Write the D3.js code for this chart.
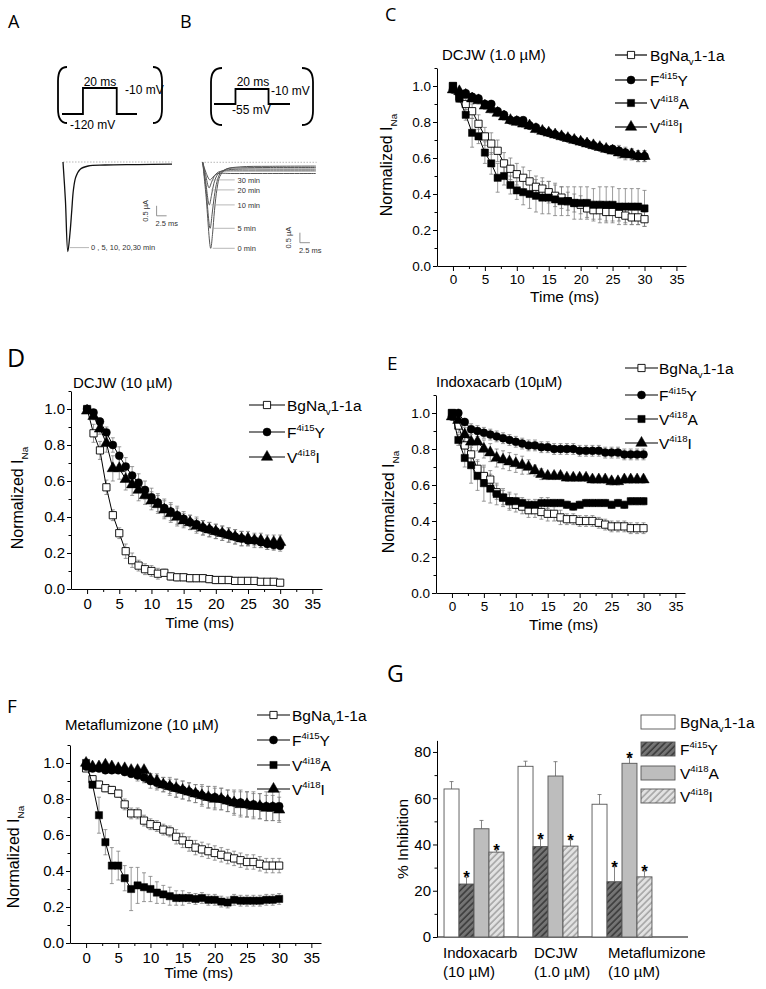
<!DOCTYPE html>
<html>
<head>
<meta charset="utf-8">
<script src="https://cdn.jsdelivr.net/npm/d3@7"></script>
<style>
  body { margin: 0; background: #fff; }
  svg { display: block; font-family: "Liberation Sans", Arial, sans-serif; }
</style>
</head>
<body>
<svg id="fig" width="766" height="989"></svg>
<script>
// ---------- data ----------
const times = [0,1,2,3,4,5,6,7,8,9,10,11,12,13,14,15,16,17,18,19,20,21,22,23,24,25,26,27,28,29,30];

// C: DCJW (1.0 uM)
const cBg  = [1.0,0.94,0.90,0.86,0.79,0.72,0.68,0.64,0.57,0.54,0.51,0.49,0.47,0.44,0.43,0.41,0.39,0.38,0.36,0.35,0.34,0.32,0.31,0.31,0.30,0.30,0.29,0.28,0.27,0.27,0.26];
const cBgE = [0,0.02,0.03,0.04,0.05,0.05,0.06,0.06,0.06,0.06,0.06,0.06,0.06,0.06,0.06,0.06,0.06,0.06,0.05,0.05,0.05,0.05,0.05,0.05,0.05,0.05,0.04,0.04,0.04,0.04,0.04];
const cF   = [0.98,0.96,0.96,0.94,0.93,0.90,0.90,0.86,0.84,0.81,0.81,0.81,0.78,0.77,0.75,0.74,0.73,0.72,0.71,0.70,0.69,0.68,0.67,0.66,0.65,0.65,0.64,0.63,0.62,0.61,0.61];
const cFE  = [0,0.01,0.01,0.01,0.02,0.02,0.02,0.02,0.02,0.02,0.02,0.02,0.02,0.02,0.02,0.02,0.02,0.02,0.02,0.02,0.02,0.02,0.02,0.02,0.02,0.02,0.03,0.03,0.03,0.03,0.03];
const cA   = [1.0,0.93,0.84,0.74,0.72,0.63,0.57,0.49,0.50,0.45,0.42,0.41,0.40,0.39,0.38,0.38,0.37,0.36,0.36,0.35,0.35,0.35,0.34,0.34,0.34,0.34,0.33,0.33,0.33,0.33,0.32];
const cAE  = [0,0.02,0.03,0.08,0.04,0.06,0.06,0.08,0.05,0.05,0.05,0.07,0.08,0.09,0.09,0.09,0.09,0.08,0.08,0.09,0.09,0.09,0.09,0.1,0.1,0.1,0.1,0.1,0.1,0.1,0.1];
const cI   = [0.98,0.97,0.95,0.93,0.92,0.89,0.87,0.85,0.83,0.81,0.80,0.79,0.78,0.76,0.75,0.74,0.73,0.72,0.71,0.70,0.69,0.68,0.67,0.66,0.65,0.64,0.63,0.62,0.62,0.61,0.61];
const cIE  = [0,0.01,0.01,0.02,0.02,0.02,0.02,0.02,0.02,0.02,0.02,0.02,0.02,0.02,0.02,0.02,0.02,0.02,0.02,0.02,0.02,0.02,0.02,0.02,0.02,0.02,0.03,0.03,0.03,0.03,0.03];

// D: DCJW (10 uM)
const dBg  = [1.0,0.865,0.77,0.565,0.41,0.31,0.21,0.16,0.13,0.11,0.10,0.085,0.09,0.07,0.065,0.065,0.06,0.06,0.06,0.055,0.05,0.05,0.05,0.045,0.045,0.045,0.045,0.04,0.04,0.04,0.035];
const dBgE = [0,0.05,0.05,0.04,0.03,0.03,0.04,0.04,0.03,0.03,0.03,0.03,0.02,0.02,0.02,0.02,0.02,0.02,0.02,0.02,0.02,0.02,0.02,0.02,0.02,0.02,0.01,0.01,0.01,0.01,0.01];
const dF   = [1.0,0.98,0.93,0.87,0.80,0.74,0.68,0.63,0.59,0.55,0.51,0.48,0.45,0.43,0.41,0.39,0.37,0.36,0.34,0.33,0.32,0.31,0.30,0.29,0.28,0.27,0.27,0.26,0.25,0.245,0.24];
const dFE  = [0,0.01,0.02,0.03,0.04,0.05,0.05,0.05,0.05,0.05,0.05,0.05,0.05,0.05,0.05,0.04,0.04,0.04,0.04,0.04,0.04,0.04,0.04,0.04,0.04,0.03,0.03,0.03,0.03,0.03,0.03];
const dI   = [0.99,0.96,0.89,0.81,0.67,0.67,0.61,0.58,0.55,0.52,0.49,0.47,0.44,0.42,0.40,0.38,0.37,0.35,0.34,0.33,0.32,0.31,0.30,0.29,0.28,0.28,0.27,0.27,0.26,0.26,0.26];
const dIE  = [0,0.02,0.03,0.05,0.07,0.06,0.06,0.06,0.06,0.05,0.05,0.05,0.05,0.05,0.05,0.04,0.04,0.04,0.04,0.04,0.04,0.04,0.04,0.04,0.04,0.04,0.04,0.04,0.04,0.04,0.04];

// E: Indoxacarb (10 uM)
const eBg  = [1.0,0.93,0.82,0.77,0.69,0.65,0.63,0.56,0.53,0.51,0.49,0.48,0.46,0.46,0.45,0.44,0.44,0.42,0.41,0.41,0.40,0.40,0.40,0.39,0.38,0.37,0.37,0.37,0.36,0.36,0.36];
const eBgE = [0,0.04,0.05,0.05,0.05,0.05,0.05,0.04,0.04,0.04,0.04,0.04,0.04,0.04,0.04,0.04,0.04,0.04,0.03,0.03,0.03,0.03,0.03,0.03,0.03,0.03,0.03,0.03,0.03,0.03,0.03];
const eF   = [0.98,1.0,0.95,0.91,0.90,0.89,0.88,0.87,0.86,0.85,0.84,0.83,0.82,0.82,0.81,0.81,0.80,0.80,0.80,0.80,0.79,0.79,0.79,0.79,0.78,0.78,0.78,0.77,0.77,0.77,0.77];
const eFE  = [0,0.02,0.02,0.03,0.03,0.03,0.03,0.03,0.03,0.03,0.03,0.03,0.03,0.03,0.03,0.03,0.03,0.03,0.03,0.03,0.03,0.03,0.03,0.03,0.03,0.03,0.03,0.03,0.03,0.03,0.03];
const eA   = [1.0,0.85,0.75,0.71,0.65,0.61,0.58,0.55,0.53,0.51,0.51,0.50,0.49,0.49,0.50,0.50,0.50,0.50,0.49,0.48,0.49,0.50,0.50,0.50,0.50,0.49,0.50,0.49,0.51,0.51,0.51];
const eAE  = [0,0.03,0.05,0.1,0.08,0.1,0.08,0.06,0.05,0.05,0.04,0.03,0.03,0.03,0.03,0.03,0.02,0.02,0.02,0.02,0.02,0.02,0.02,0.02,0.02,0.02,0.02,0.02,0.02,0.02,0.02];
const eI   = [0.98,0.96,0.88,0.84,0.84,0.80,0.78,0.75,0.74,0.73,0.72,0.71,0.70,0.68,0.66,0.65,0.65,0.65,0.64,0.64,0.64,0.64,0.63,0.63,0.63,0.62,0.62,0.63,0.63,0.63,0.63];
const eIE  = [0,0.03,0.04,0.06,0.05,0.05,0.05,0.05,0.05,0.05,0.05,0.05,0.04,0.03,0.03,0.02,0.02,0.02,0.02,0.02,0.02,0.02,0.02,0.02,0.02,0.02,0.02,0.02,0.02,0.02,0.02];

// F: Metaflumizone (10 uM)
const fBg  = [0.97,0.91,0.88,0.86,0.85,0.83,0.77,0.72,0.72,0.68,0.66,0.65,0.63,0.62,0.59,0.57,0.55,0.53,0.52,0.51,0.50,0.49,0.48,0.47,0.46,0.45,0.45,0.44,0.43,0.43,0.43];
const fBgE = [0,0.02,0.02,0.02,0.02,0.02,0.03,0.03,0.03,0.03,0.03,0.03,0.03,0.03,0.04,0.04,0.04,0.04,0.04,0.04,0.04,0.04,0.04,0.04,0.04,0.04,0.04,0.04,0.04,0.04,0.04];
const fF   = [0.98,0.97,0.97,0.96,0.96,0.96,0.95,0.94,0.93,0.92,0.90,0.89,0.88,0.87,0.86,0.85,0.84,0.83,0.82,0.81,0.81,0.80,0.79,0.78,0.78,0.77,0.77,0.76,0.76,0.76,0.76];
const fFE  = [0,0.01,0.01,0.01,0.01,0.01,0.02,0.02,0.03,0.03,0.04,0.04,0.04,0.05,0.05,0.05,0.05,0.05,0.06,0.06,0.06,0.06,0.06,0.07,0.07,0.07,0.07,0.07,0.08,0.08,0.08];
const fA   = [1.0,0.88,0.71,0.56,0.43,0.43,0.36,0.30,0.32,0.31,0.30,0.28,0.27,0.26,0.25,0.25,0.25,0.245,0.25,0.24,0.24,0.23,0.225,0.24,0.235,0.235,0.235,0.235,0.24,0.24,0.245];
const fAE  = [0,0.02,0.1,0.07,0.1,0.08,0.07,0.12,0.1,0.08,0.07,0.06,0.05,0.05,0.04,0.04,0.03,0.03,0.03,0.03,0.03,0.03,0.03,0.03,0.03,0.03,0.03,0.03,0.03,0.03,0.03];
const fI   = [1.0,0.98,0.98,0.99,0.98,0.97,0.97,0.96,0.96,0.96,0.91,0.90,0.88,0.87,0.86,0.85,0.84,0.83,0.82,0.81,0.80,0.80,0.79,0.78,0.77,0.77,0.76,0.76,0.75,0.75,0.74];
const fIE  = [0,0.01,0.01,0.01,0.01,0.01,0.01,0.01,0.01,0.01,0.03,0.04,0.04,0.04,0.05,0.05,0.05,0.05,0.05,0.06,0.06,0.06,0.06,0.06,0.07,0.07,0.07,0.07,0.07,0.07,0.07];

// G: % inhibition
const groups    = ["Indoxacarb", "DCJW", "Metaflumizone"];
const groupDose = ["(10 \u00b5M)", "(1.0 \u00b5M)", "(10 \u00b5M)"];
const inhibBg = [64.0, 73.8, 57.4], inhibBgE = [3.2, 2.2, 4.2], sigBg = [0, 0, 0];
const inhibF  = [22.9, 39.1, 23.9], inhibFE  = [2.9, 3.3, 6.5], sigF  = [1, 1, 1];
const inhibA  = [46.8, 69.6, 75.1], inhibAE  = [3.6, 6.2, 2.5], sigA  = [0, 0, 1];
const inhibI  = [36.7, 39.3, 26.0], inhibIE  = [0.9, 2.7, 2.5], sigI  = [1, 1, 1];

// A/B: voltage protocols (ms, mV)
const protoA_t = [-12.4, 0, 0, 20, 20, 32], protoA_v = [-120, -120, -10, -10, -120, -120];
const protoB_t = [-13, 0, 0, 20, 20, 33],   protoB_v = [-55, -55, -10, -10, -55, -55];

// A: current trace (ms, uA) - identical at 0,5,10,20,30 min
const trA_t = [0,0.6,1.2,1.75,2.2,2.6,3.2,4.25,6.3,10.5,18.75,27.25];
const trA_i = [0,-1.9,-4.48,-3.55,-2.4,-1.4,-0.75,-0.37,-0.2,-0.15,-0.13,-0.11];
// B: current traces at 0,5,10,20,30 min
const trB_labels = ["0 min", "5 min", "10 min", "20 min", "30 min"];
const trB_t = [
  [0,0.8,2.0,2.45,2.95,3.6,4.3,5.8,9.3,16.8,28.3],
  [0,0.8,1.85,2.35,2.9,3.6,4.4,6,9.5,17,28.3],
  [0,0.7,1.65,2.2,2.8,3.6,4.6,6.5,10,17,28.3],
  [0,0.7,1.6,2.2,2.9,3.8,5,7,10,17,28.3],
  [0,0.8,1.8,2.5,3.3,4.5,7,12,28.3]
];
const trB_i = [
  [0,-1.6,-4.3,-3.6,-2.4,-1.3,-0.7,-0.35,-0.23,-0.2,-0.19],
  [0,-1.3,-3.3,-2.6,-1.7,-0.95,-0.55,-0.33,-0.28,-0.26,-0.26],
  [0,-0.9,-2.13,-1.65,-1.05,-0.65,-0.45,-0.37,-0.34,-0.34,-0.34],
  [0,-0.6,-1.28,-1.0,-0.7,-0.5,-0.44,-0.43,-0.43,-0.43,-0.43],
  [0,-0.5,-0.88,-0.75,-0.6,-0.55,-0.56,-0.56,-0.56]
];

const xTicks = [0,5,10,15,20,25,30,35];
const xMinor = [2.5,7.5,12.5,17.5,22.5,27.5,32.5];
const yTicks = [0,0.2,0.4,0.6,0.8,1.0];
const yMinor = [0.1,0.3,0.5,0.7,0.9,1.1];

// legend text pieces
const names = {
  bg: [["BgNa"], ["v", "sub"], ["1-1a"]],
  f:  [["F"], ["4i15", "sup"], ["Y"]],
  a:  [["V"], ["4i18", "sup"], ["A"]],
  i:  [["V"], ["4i18", "sup"], ["I"]]
};

// ---------- drawing ----------
const svg = d3.select("#fig");
const defs = svg.append("defs");

function rich(t, parts, size) {
  let shift = 0;
  parts.forEach(([s, kind]) => {
    const target = kind === "sub" ? size * 0.3 : kind === "sup" ? -size * 0.4 : 0;
    t.append("tspan")
      .attr("dy", target - shift)
      .attr("font-size", kind ? size * 0.62 : size)
      .text(s);
    shift = target;
  });
  return t;
}

function letter(txt, x, y, size) {
  svg.append("text").attr("x", x).attr("y", y)
    .attr("font-family", '"Open Sans", sans-serif')
    .attr("font-size", size).text(txt);
}

const symType = { bg: d3.symbolSquare, a: d3.symbolSquare, f: d3.symbolCircle, i: d3.symbolTriangle };
const symSize = { bg: 52, a: 52, f: 50, i: 56 };
function marker(sel, key) {
  sel.attr("d", d3.symbol().type(symType[key]).size(symSize[key]))
    .attr("fill", key === "bg" ? "#fff" : "#000")
    .attr("stroke", "#000").attr("stroke-width", key === "bg" ? 0.9 : 0.5);
}

function linePanel(p) {
  const g = svg.append("g");
  const x = d3.scaleLinear().domain([-2.5, 36.5]).range([p.left, p.right]);
  const y = d3.scaleLinear().domain([0, 1.1]).range([p.zero, p.zero - 198]);

  // axes
  const ax = g.append("g").attr("transform", `translate(0,${p.zero})`)
    .call(d3.axisBottom(x).tickValues(xTicks).tickSize(5).tickSizeOuter(0).tickPadding(p.pad).tickFormat(d3.format("d")));
  g.append("g").attr("transform", `translate(0,${p.zero})`)
    .call(d3.axisBottom(x).tickValues(xMinor).tickSize(3).tickFormat(""))
    .select(".domain").remove();
  const ay = g.append("g").attr("transform", `translate(${p.left},0)`)
    .call(d3.axisLeft(y).tickValues(yTicks).tickSize(4).tickSizeOuter(0).tickPadding(2).tickFormat(d3.format(".1f")));
  g.append("g").attr("transform", `translate(${p.left},0)`)
    .call(d3.axisLeft(y).tickValues(yMinor).tickSize(2.5).tickFormat(""))
    .select(".domain").remove();
  g.selectAll(".tick text").attr("font-family", null).attr("font-size", p.font).attr("fill", "#000");
  g.selectAll(".tick line, .domain").attr("stroke", "#000");
  ax.selectAll(".tick text").attr("font-size", p.font);
  ay.selectAll(".tick text").attr("font-size", p.font);
  g.selectAll("g").attr("font-family", null);

  // axis titles
  g.append("text").attr("x", x(17.5)).attr("y", p.xlabY).attr("text-anchor", "middle")
    .attr("font-size", 15.5).text("Time (ms)");
  const yl = g.append("text").attr("text-anchor", "middle")
    .attr("transform", `translate(${p.ylab[0]},${p.ylab[1]}) rotate(-90)`).attr("dy", "0.35em");
  rich(yl, [["Normalized I"], ["Na", "sub"]], 16);

  // title
  g.append("text").attr("x", p.titleX).attr("y", p.titleY).attr("font-size", 15).text(p.title);

  // error bars
  p.series.forEach(([key, vals, errs]) => {
    const eg = g.append("g").attr("stroke", "#7a7a7a").attr("stroke-width", 0.75);
    vals.forEach((v, k) => {
      const e = errs[k];
      if (!e) return;
      const cx = x(times[k]);
      eg.append("line").attr("x1", cx).attr("x2", cx).attr("y1", y(v - e)).attr("y2", y(v + e));
      [v - e, v + e].forEach(w => eg.append("line").attr("x1", cx - 2).attr("x2", cx + 2).attr("y1", y(w)).attr("y2", y(w)));
    });
  });
  // lines + markers
  const line = d3.line().x((d, k) => x(times[k])).y(d => y(d));
  p.series.forEach(([key, vals]) => {
    g.append("path").attr("d", line(vals)).attr("fill", "none").attr("stroke", "#000").attr("stroke-width", 1);
    g.append("g").selectAll("path").data(vals).join("path")
      .attr("transform", (d, k) => `translate(${x(times[k])},${y(d)})`)
      .call(marker, key);
  });

  // legend
  p.legOrder.forEach((key, k) => {
    const ry = p.leg.rows[k];
    g.append("line").attr("x1", p.leg.x0).attr("x2", p.leg.x1).attr("y1", ry).attr("y2", ry)
      .attr("stroke", "#000").attr("stroke-width", 1.2);
    g.append("path").attr("transform", `translate(${(p.leg.x0 + p.leg.x1) / 2},${ry})`).call(marker, key);
    rich(g.append("text").attr("x", p.leg.tx).attr("y", ry + 5.5), names[key], 15.5);
  });
}

linePanel({
  left: 437, right: 686, zero: 266, font: 13.5, pad: 3, xlabY: 302, ylab: [392, 165],
  title: "DCJW (1.0 \u00b5M)", titleX: 442, titleY: 60,
  series: [["bg", cBg, cBgE], ["a", cA, cAE], ["i", cI, cIE], ["f", cF, cFE]],
  legOrder: ["bg", "f", "a", "i"], leg: { x0: 615, x1: 647, tx: 650, rows: [55, 80, 103, 127] }
});
linePanel({
  left: 71, right: 322, zero: 589, font: 15, pad: 4, xlabY: 628, ylab: [23, 498],
  title: "DCJW (10 \u00b5M)", titleX: 73, titleY: 388,
  series: [["bg", dBg, dBgE], ["i", dI, dIE], ["f", dF, dFE]],
  legOrder: ["bg", "f", "i"], leg: { x0: 249, x1: 285, tx: 287, rows: [405, 432, 457] }
});
linePanel({
  left: 436, right: 685, zero: 593, font: 13.5, pad: 3, xlabY: 630, ylab: [394, 502],
  title: "Indoxacarb (10\u00b5M)", titleX: 436, titleY: 387,
  series: [["bg", eBg, eBgE], ["a", eA, eAE], ["i", eI, eIE], ["f", eF, eFE]],
  legOrder: ["bg", "f", "a", "i"], leg: { x0: 625, x1: 658, tx: 659, rows: [368, 395, 419, 443] }
});
linePanel({
  left: 70, right: 321, zero: 943, font: 15, pad: 4, xlabY: 978, ylab: [19, 857],
  title: "Metaflumizone (10 \u00b5M)", titleX: 65, titleY: 730,
  series: [["bg", fBg, fBgE], ["a", fA, fAE], ["f", fF, fFE], ["i", fI, fIE]],
  legOrder: ["bg", "f", "a", "i"], leg: { x0: 257, x1: 290, tx: 292, rows: [715, 740, 765, 789] }
});

// ---------- G: bar chart ----------
function hatch(id, bg, stroke, w) {
  const pt = defs.append("pattern").attr("id", id).attr("patternUnits", "userSpaceOnUse")
    .attr("width", 4.5).attr("height", 4.5).attr("patternTransform", "rotate(45)");
  pt.append("rect").attr("width", 4.5).attr("height", 4.5).attr("fill", bg);
  pt.append("line").attr("x1", 1).attr("x2", 1).attr("y1", 0).attr("y2", 4.5).attr("stroke", stroke).attr("stroke-width", w);
}
hatch("hF", "#747474", "#2e2e2e", 1.3);
hatch("hI", "#e2e2e2", "#9c9c9c", 1.4);
const barFill = { bg: "#fff", f: "url(#hF)", a: "#bdbdbd", i: "url(#hI)" };
const barSeries = [["bg", inhibBg, inhibBgE, sigBg], ["f", inhibF, inhibFE, sigF], ["a", inhibA, inhibAE, sigA], ["i", inhibI, inhibIE, sigI]];

{
  const g = svg.append("g");
  const x0 = d3.scaleBand().domain(groups).range([437, 659]).paddingInner(0.19).paddingOuter(0.095);
  const x1 = d3.scaleBand().domain(barSeries.map(s => s[0])).range([0, x0.bandwidth()]);
  const y = d3.scaleLinear().domain([0, 85]).range([937, 740.4]);

  const ay = g.append("g").attr("transform", "translate(437,0)")
    .call(d3.axisLeft(y).tickValues([0, 20, 40, 60, 80]).tickSize(4).tickSizeOuter(0).tickPadding(2));
  g.append("g").attr("transform", "translate(437,0)")
    .call(d3.axisLeft(y).tickValues([10, 30, 50, 70]).tickSize(2.5).tickFormat(""))
    .select(".domain").remove();
  ay.selectAll(".tick text").attr("font-size", 15).attr("fill", "#000");
  g.selectAll("g").attr("font-family", null);
  g.selectAll(".tick line, .domain").attr("stroke", "#000");
  g.append("line").attr("x1", 437).attr("x2", 688).attr("y1", y(0)).attr("y2", y(0)).attr("stroke", "#000");

  g.append("text").attr("text-anchor", "middle").attr("dy", "0.35em")
    .attr("transform", `translate(403,839) rotate(-90)`).attr("font-size", 15.5).text("% Inhibition");

  barSeries.forEach(([key, vals, errs, sig]) => {
    groups.forEach((grp, k) => {
      const bx = x0(grp) + x1(key), bw = x1.bandwidth();
      const top = y(vals[k] + errs[k]);
      g.append("line").attr("x1", bx + bw / 2).attr("x2", bx + bw / 2)
        .attr("y1", y(vals[k])).attr("y2", top).attr("stroke", "#666").attr("stroke-width", 0.8);
      g.append("line").attr("x1", bx + bw / 2 - 2).attr("x2", bx + bw / 2 + 2)
        .attr("y1", top).attr("y2", top).attr("stroke", "#666").attr("stroke-width", 0.8);
      g.append("rect").attr("x", bx).attr("width", bw)
        .attr("y", y(vals[k])).attr("height", y(0) - y(vals[k]))
        .attr("fill", barFill[key]).attr("stroke", "#555").attr("stroke-width", 0.9);
      if (sig[k]) {
        g.append("text").attr("x", bx + bw / 2).attr("y", top + 6).attr("text-anchor", "middle")
          .attr("font-size", 17).attr("font-weight", "bold").text("*");
      }
    });
  });

  const labShift = [-1, 16, 16];
  groups.forEach((grp, k) => {
    g.append("text").attr("x", x0(grp) + labShift[k]).attr("y", 958).attr("font-size", 15).text(grp);
    g.append("text").attr("x", x0(grp) + labShift[k]).attr("y", 977).attr("font-size", 15).text(groupDose[k]);
  });

  const legRows = [722, 749, 773, 796];
  barSeries.forEach(([key], k) => {
    g.append("rect").attr("x", 641).attr("y", legRows[k] - 7).attr("width", 34).attr("height", 14)
      .attr("fill", barFill[key]).attr("stroke", "#555").attr("stroke-width", 0.9);
    rich(g.append("text").attr("x", 680).attr("y", legRows[k] + 5.5), names[key], 15.5);
  });
}

// ---------- A / B: protocols and traces ----------
function bracket(x_out, x_in, top, bot) {
  const p = d3.path();
  p.moveTo(x_out, top);
  p.quadraticCurveTo(x_in, top, x_in, top + 14);
  p.lineTo(x_in, bot - 14);
  p.quadraticCurveTo(x_in, bot, x_out, bot);
  svg.append("path").attr("d", p.toString()).attr("fill", "none").attr("stroke", "#000").attr("stroke-width", 1.8);
}

function protocol(ts, vs, xr, yr) {
  const x = d3.scaleLinear().domain([ts[0], ts[ts.length - 1]]).range(xr);
  const y = d3.scaleLinear().domain([vs[0], -10]).range(yr);
  svg.append("path").attr("d", d3.line().x((d, k) => x(ts[k])).y(d => y(d))(vs))
    .attr("fill", "none").attr("stroke", "#000").attr("stroke-width", 1.8);
}

// A protocol
bracket(67, 58, 67, 123);
bracket(153, 162, 67, 123);
protocol(protoA_t, protoA_v, [62, 137], [114, 88]);
svg.append("text").attr("x", 100).attr("y", 86).attr("text-anchor", "middle").attr("font-size", 12).text("20 ms");
svg.append("text").attr("x", 125).attr("y", 94).attr("font-size", 12).text("-10 mV");
svg.append("text").attr("x", 70).attr("y", 129).attr("font-size", 12).text("-120 mV");
// B protocol
bracket(222, 211, 68, 125);
bracket(302, 313, 68, 125);
protocol(protoB_t, protoB_v, [214, 290], [104, 89]);
svg.append("text").attr("x", 253).attr("y", 86).attr("text-anchor", "middle").attr("font-size", 12).text("20 ms");
svg.append("text").attr("x", 271).attr("y", 95).attr("font-size", 12).text("-10 mV");
svg.append("text").attr("x", 232).attr("y", 114).attr("font-size", 12).text("-55 mV");

function traceScales(x0, y0) {
  return [d3.scaleLinear().domain([0, 1]).range([x0, x0 + 4]), d3.scaleLinear().domain([0, -1]).range([y0, y0 + 20])];
}
function scaleBar(x, y, t0, i0) {
  const g = svg.append("g").attr("stroke", "#777").attr("stroke-width", 0.8);
  g.append("line").attr("x1", x(t0)).attr("x2", x(t0)).attr("y1", y(i0)).attr("y2", y(i0 + 0.5));
  g.append("line").attr("x1", x(t0)).attr("x2", x(t0 + 2.5)).attr("y1", y(i0)).attr("y2", y(i0));
  svg.append("text").attr("font-size", 7.5).attr("fill", "#333").attr("text-anchor", "middle")
    .attr("transform", `translate(${x(t0) - 9},${y(i0 + 0.25)}) rotate(-90)`).text("0.5 \u00b5A");
  svg.append("text").attr("x", x(t0) - 1).attr("y", y(i0) + 10).attr("font-size", 7.5).attr("fill", "#333").text("2.5 ms");
}

// A trace
{
  const [x, y] = traceScales(63, 162);
  svg.append("line").attr("x1", x(0)).attr("x2", x(27.3)).attr("y1", y(0)).attr("y2", y(0))
    .attr("stroke", "#999").attr("stroke-width", 0.7).attr("stroke-dasharray", "1.5,1.5");
  svg.append("path").attr("d", d3.line().curve(d3.curveCatmullRom).x((d, k) => x(trA_t[k])).y(d => y(d))(trA_i))
    .attr("fill", "none").attr("stroke", "#111").attr("stroke-width", 1.3);
  const lo = d3.minIndex(trA_i);
  svg.append("line").attr("x1", x(trA_t[lo]) + 2).attr("x2", x(6.5)).attr("y1", y(trA_i[lo]) - 4).attr("y2", y(trA_i[lo]) - 4)
    .attr("stroke", "#999").attr("stroke-width", 0.7);
  svg.append("text").attr("x", x(7)).attr("y", y(trA_i[lo]) - 1.5).attr("font-size", 7.5).attr("fill", "#333")
    .text("0 , 5, 10, 20,30 min");
  scaleBar(x, y, 23.4, -2.69);
}

// B traces
{
  const [x, y] = traceScales(202.7, 162.3);
  svg.append("line").attr("x1", x(-0.3)).attr("x2", x(28.5)).attr("y1", y(0)).attr("y2", y(0))
    .attr("stroke", "#999").attr("stroke-width", 0.7).attr("stroke-dasharray", "1.5,1.5");
  trB_i.forEach((vals, j) => {
    const ts = trB_t[j];
    svg.append("path").attr("d", d3.line().curve(d3.curveCatmullRom).x((d, k) => x(ts[k])).y(d => y(d))(vals))
      .attr("fill", "none").attr("stroke", "#555").attr("stroke-width", 1);
    const lo = d3.minIndex(vals);
    const ly = y(vals[lo]) + (j === 3 ? 2 : 0);
    svg.append("line").attr("x1", x(ts[lo]) + 2).attr("x2", x(8)).attr("y1", ly).attr("y2", ly)
      .attr("stroke", "#999").attr("stroke-width", 0.7);
    svg.append("text").attr("x", x(8.7)).attr("y", ly + 2.7).attr("font-size", 7.5).attr("fill", "#333").text(trB_labels[j]);
  });
  scaleBar(x, y, 24.3, -4.02);
}

// panel letters
letter("A", 8, 28, 18);
letter("B", 180, 28, 18);
letter("C", 385, 21, 18);
letter("D", 7, 367, 25);
letter("E", 387, 370, 19);
letter("F", 7, 713, 19);
letter("G", 387, 682, 23);
</script>
</body>
</html>
